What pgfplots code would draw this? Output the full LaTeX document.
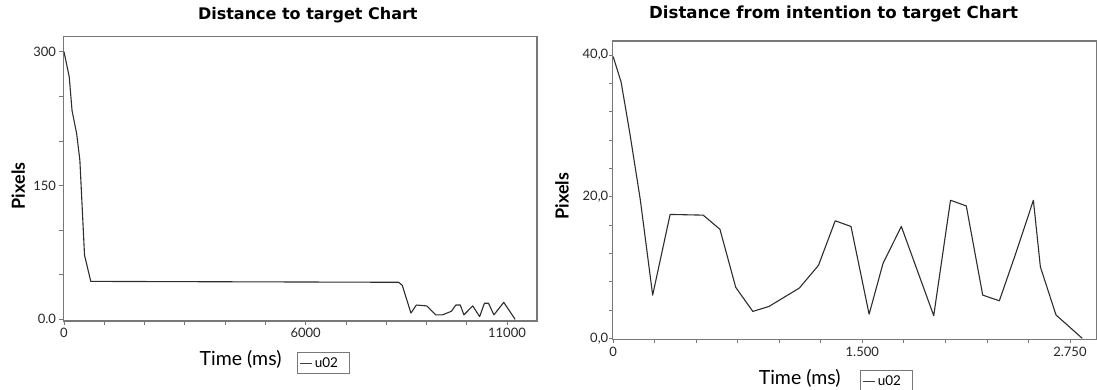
\documentclass[border=0pt]{standalone}
\usepackage{pgfplots}
\pgfplotsset{compat=1.18}
\usepackage{fontspec}
\setmainfont{Lato}
\newfontfamily\titlefont{DejaVu Sans}
\definecolor{frame}{RGB}{120,120,120}
\definecolor{curve}{RGB}{45,45,45}
\definecolor{legline}{RGB}{110,40,40}
\pgfplotsset{
  mystyle/.style={
    scale only axis,
    anchor=south west,
    scaled x ticks=false, scaled y ticks=false,
    axis line style={draw=frame, line width=1.3pt},
    tick pos=left,
    tick align=outside,
    major tick length=4pt,
    tick style={draw=frame, line width=0.7pt},
    tick label style={font=\fontsize{13}{13}\selectfont, text=black!85},
    title style={font=\titlefont\bfseries\fontsize{16}{16}\selectfont, anchor=center},
    xlabel style={font=\fontsize{19.5}{19.5}\selectfont, anchor=center},
    ylabel style={font=\bfseries\fontsize{18}{18}\selectfont, anchor=center, rotate=0},
    legend style={draw=frame, line width=0.8pt, font=\fontsize{13.5}{13.5}\selectfont,
      anchor=north, inner xsep=3pt, inner ysep=3pt,
      /tikz/every even column/.append style={column sep=2pt}},
    legend image code/.code={\draw[legline, line width=0.8pt] (0pt,0pt) -- (12pt,0pt);},
  }
}
\begin{document}
\begin{tikzpicture}
\useasboundingbox (0pt,0pt) rectangle (1097pt,390pt);
\begin{axis}[mystyle,
  at={(63.5pt,69pt)},
  width=473.5pt, height=284.3pt,
  xmin=-12, xmax=11745, ymin=-1.9, ymax=316.8,
  xtick={0,1000,...,11000},
  xticklabels={0,,,,,,6000,,,,,11000},
  ytick={0,50,...,300},
  yticklabels={0.0,,,150,,,300},
  title={Distance to target Chart},
  title style={at={(rel axis cs:0.516,1)}, yshift=16pt},
  xlabel={Time (ms)},
  xlabel style={at={(rel axis cs:0.374,0)}, yshift=-38pt},
  ylabel={Pixels},
  ylabel style={at={(rel axis cs:-0.0955,0.475)}},
  legend style={at={(0.549,0)}, yshift=-31pt},
]
\addplot[curve, line width=1.1pt, line join=round] coordinates {
(0,300) (130,272) (200,234) (315,208) (395,178) (510,72) (665,42.5)
(8310,41.5) (8400,38) (8615,7) (8750,16) (9010,15) (9230,5) (9400,5)
(9620,9) (9730,16) (9840,16) (9930,5) (10150,15) (10320,3) (10440,18)
(10540,18) (10675,5) (10920,19) (11200,0)
};
\addlegendentry{\makebox[30pt][l]{u02}}
\end{axis}
\begin{axis}[mystyle,
  at={(612.8pt,50.7pt)},
  width=484.2pt, height=298.3pt,
  xmin=-2, xmax=2913, ymin=-0.14, ymax=42.0,
  xtick={0,250,...,2750},
  xticklabels={0,,,,,,1.500,,,,,2.750},
  ytick={0,4,...,40},
  yticklabels={{0,0},,,,,{20,0},,,,,{40,0}},
  yticklabel style={xshift=3pt},
  title={Distance from intention to target Chart},
  title style={at={(rel axis cs:0.456,1)}, yshift=21pt, font=\titlefont\bfseries\fontsize{16.6}{16.6}\selectfont},
  xlabel={Time (ms)},
  xlabel style={at={(rel axis cs:0.386,0)}, yshift=-39pt},
  ylabel={Pixels},
  ylabel style={at={(rel axis cs:-0.105,0.48)}},
  legend style={at={(0.565,0)}, yshift=-31pt},
]
\addplot[curve, line width=1.1pt, line join=round] coordinates {
(0,39.8) (48,36.2) (101,28.9) (164,19.5) (238,6.1) (343,17.5) (542,17.4)
(643,15.4) (738,7.2) (841,3.8) (938,4.5) (1121,7.1) (1236,10.3) (1337,16.6)
(1432,15.8) (1541,3.4) (1625,10.6) (1735,15.8) (1930,3.2) (2031,19.5)
(2126,18.7) (2225,6.1) (2325,5.3) (2424,12.0) (2530,19.5) (2572,10.1)
(2666,3.3) (2824,0)
};
\addlegendentry{\makebox[30pt][l]{u02}}
\end{axis}
\end{tikzpicture}
\end{document}
